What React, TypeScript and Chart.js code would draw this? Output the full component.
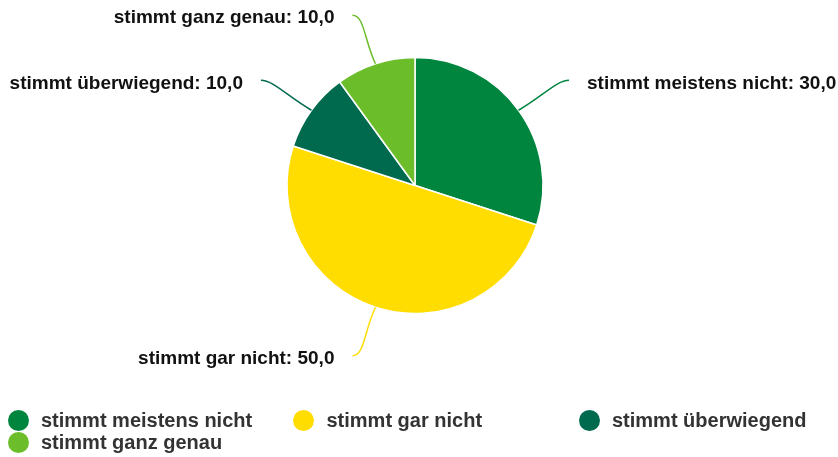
import React, { useEffect, useRef } from "react";
import { Chart, registerables } from "chart.js";

Chart.register(...registerables);

const categories = [
  "stimmt meistens nicht",
  "stimmt gar nicht",
  "stimmt überwiegend",
  "stimmt ganz genau",
];
const values = [30, 50, 10, 10];
const colors = ["#00853F", "#FFDD00", "#006A4F", "#6BBE2A"];

const fmt = (v: number) => v.toFixed(1).replace(".", ",");

const labelPlugin = {
  id: "pieLabels",
  afterDatasetsDraw(chart: any) {
    const ctx = chart.ctx;
    const meta = chart.getDatasetMeta(0);
    ctx.save();
    meta.data.forEach((arc: any, i: number) => {
      const { x, y, startAngle, endAngle, outerRadius } = arc.getProps(
        ["x", "y", "startAngle", "endAngle", "outerRadius"],
        true
      );
      const mid = (startAngle + endAngle) / 2;
      const cos = Math.cos(mid);
      const sin = Math.sin(mid);
      const sign = cos >= 0 ? 1 : -1;
      const sx = x + cos * outerRadius;
      const sy = y + sin * outerRadius;
      const ex = x + cos * (outerRadius + 55) + sign * 6;
      const ey = y + sin * (outerRadius + 51);
      ctx.beginPath();
      ctx.moveTo(sx, sy);
      ctx.bezierCurveTo(
        (sx + ex) / 2,
        (sy + ey) / 2,
        ex - sign * 12,
        ey,
        ex,
        ey
      );
      ctx.strokeStyle = colors[i];
      ctx.lineWidth = 1.5;
      ctx.stroke();
      ctx.font = "bold 19px 'Liberation Sans', Arial, sans-serif";
      ctx.fillStyle = "#111";
      ctx.textAlign = sign > 0 ? "left" : "right";
      ctx.textBaseline = "middle";
      ctx.fillText(`${categories[i]}: ${fmt(values[i])}`, ex + sign * 18, ey + 3);
    });
    ctx.restore();
  },
};

export default function App() {
  const ref = useRef<HTMLCanvasElement>(null);
  useEffect(() => {
    const chart = new Chart(ref.current!, {
      type: "pie",
      data: {
        labels: categories,
        datasets: [
          {
            data: values,
            backgroundColor: colors,
            borderColor: "#ffffff",
            borderWidth: 1.5,
            radius: 128,
          },
        ],
      },
      options: {
        animation: false,
        responsive: false,
        layout: { padding: { left: 287, right: 295, top: 57, bottom: 143 } },
        plugins: {
          legend: { display: false },
          tooltip: { enabled: false },
        },
      },
      plugins: [labelPlugin],
    });
    return () => chart.destroy();
  }, []);

  return (
    <div
      style={{
        position: "fixed",
        left: 0,
        top: 0,
        width: 838,
        height: 457,
        background: "#fff",
        overflow: "hidden",
      }}
    >
      <canvas ref={ref} width={838} height={457} style={{ position: "absolute", left: 0, top: 0 }} />
      <div
        style={{
          position: "absolute",
          left: 7.5,
          top: 409,
          display: "grid",
          gridTemplateColumns: "285.5px 285.5px auto",
          gridAutoRows: "22px",
        }}
      >
        {categories.map((c, i) => (
          <div
            key={c}
            style={{
              height: 22,
              display: "flex",
              alignItems: "center",
            }}
          >
            <span
              style={{
                width: 21,
                height: 21,
                borderRadius: "50%",
                background: colors[i],
                marginRight: 12.5,
                flexShrink: 0,
              }}
            />
            <span
              style={{
                font: "bold 20px 'Liberation Sans', Arial, sans-serif",
                color: "#333",
                whiteSpace: "nowrap",
              }}
            >
              {c}
            </span>
          </div>
        ))}
      </div>
    </div>
  );
}
